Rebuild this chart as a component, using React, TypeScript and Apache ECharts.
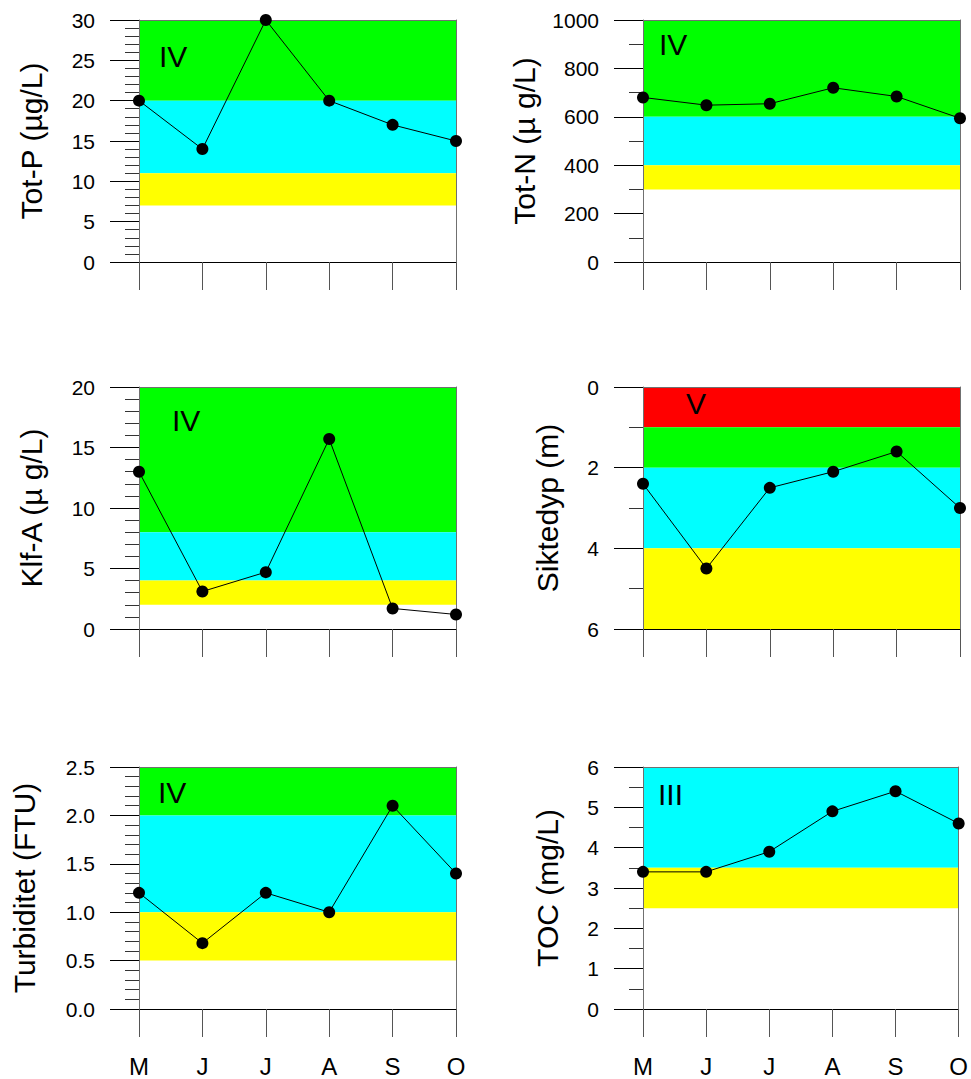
import React, { useEffect, useRef } from "react";
import * as echarts from "echarts";

// ---------- data ----------
const months = ["M", "J", "J", "A", "S", "O"];

const totP = [20, 14, 30, 20, 17, 15];
const totN = [680, 648, 654, 720, 684, 594];
const klfA = [13, 3.1, 4.7, 15.7, 1.7, 1.2];
const siktedyp = [2.4, 4.5, 2.5, 2.1, 1.6, 3.0];
const turbiditet = [1.2, 0.68, 1.2, 1.0, 2.1, 1.4];
const toc = [3.4, 3.4, 3.9, 4.9, 5.4, 4.6];

// class bands: [from, to, band kind]
const totPBands: [number, number, string][] = [[20, 30, "green"], [11, 20, "cyan"], [7, 11, "yellow"]];
const totNBands: [number, number, string][] = [[600, 1000, "green"], [400, 600, "cyan"], [300, 400, "yellow"]];
const klfABands: [number, number, string][] = [[8, 20, "green"], [4, 8, "cyan"], [2, 4, "yellow"]];
const siktBands: [number, number, string][] = [[0, 1, "red"], [1, 2, "green"], [2, 4, "cyan"], [4, 6, "yellow"]];
const turbBands: [number, number, string][] = [[2, 2.5, "green"], [1, 2, "cyan"], [0.5, 1, "yellow"]];
const tocBands: [number, number, string][] = [[3.5, 6, "cyan"], [2.5, 3.5, "yellow"]];

const titles = ["Tot-P (µg/L)", "Tot-N (µ g/L)", "Klf-A (µ g/L)", "Siktedyp (m)", "Turbiditet (FTU)", "TOC (mg/L)"];
const classLabels = ["IV", "IV", "IV", "V", "IV", "III"];

// ---------- styles / layout ----------
const bandColors: Record<string, string> = {
  green: "#00ff00",
  cyan: "#00ffff",
  yellow: "#ffff00",
  red: "#ff0000",
};
const FONT = "'Liberation Sans', Arial, Helvetica, sans-serif";
const GRAY = "#707070";

const panels = [
  { data: totP, bands: totPBands, min: 0, max: 30, interval: 5, minor: 5, inverse: false, dec: 0,
    grid: { left: 139, top: 20 }, titlePos: [31, 141], classPos: [159, 56] },
  { data: totN, bands: totNBands, min: 0, max: 1000, interval: 200, minor: 2, inverse: false, dec: 0,
    grid: { left: 643, top: 20 }, titlePos: [524, 141], classPos: [659, 44] },
  { data: klfA, bands: klfABands, min: 0, max: 20, interval: 5, minor: 5, inverse: false, dec: 0,
    grid: { left: 139, top: 387 }, titlePos: [31, 508], classPos: [172, 420] },
  { data: siktedyp, bands: siktBands, min: 0, max: 6, interval: 2, minor: 2, inverse: true, dec: 0,
    grid: { left: 643, top: 387 }, titlePos: [547, 508], classPos: [686, 403] },
  { data: turbiditet, bands: turbBands, min: 0, max: 2.5, interval: 0.5, minor: 5, inverse: false, dec: 1,
    grid: { left: 139, top: 767 }, titlePos: [24, 888], classPos: [158, 792] },
  { data: toc, bands: tocBands, min: 0, max: 6, interval: 1, minor: 2, inverse: false, dec: 0,
    grid: { left: 643, top: 767 }, titlePos: [547, 888], classPos: [658, 794] },
];
const PW = 317;
const PH = 242;

function buildOption() {
  const grid: any[] = [];
  const xAxis: any[] = [];
  const yAxis: any[] = [];
  const series: any[] = [];
  const graphic: any[] = [];

  panels.forEach((p, i) => {
    const bottomRow = i >= 4;
    grid.push({ left: p.grid.left, top: p.grid.top, width: PW, height: PH, containLabel: false });
    xAxis.push({
      type: "category",
      gridIndex: i,
      data: months,
      boundaryGap: false,
      position: "bottom",
      z: 5,
      axisLine: { show: true, onZero: false, lineStyle: { color: "#000", width: 1 } },
      axisTick: { show: true, length: 28, interval: 0, lineStyle: { color: "#555", width: 1 } },
      axisLabel: { show: bottomRow, interval: 0, margin: 45, fontSize: 24, color: "#000", fontFamily: FONT },
      splitLine: { show: false },
    });
    xAxis.push({
      type: "category",
      gridIndex: i,
      data: months,
      boundaryGap: false,
      position: "top",
      z: 5,
      axisLine: { show: true, onZero: false, lineStyle: { color: GRAY, width: 1 } },
      axisTick: { show: false },
      axisLabel: { show: false },
      splitLine: { show: false },
    });
    yAxis.push({
      type: "value",
      gridIndex: i,
      min: p.min,
      max: p.max,
      interval: p.interval,
      inverse: p.inverse,
      position: "left",
      z: 5,
      axisLine: { show: true, onZero: false, lineStyle: { color: GRAY, width: 1 } },
      axisTick: { show: true, length: 29, lineStyle: { color: "#000", width: 1 } },
      minorTick: { show: true, splitNumber: p.minor, length: 14, lineStyle: { color: "#333", width: 1 } },
      axisLabel: {
        margin: 44,
        fontSize: 21,
        color: "#000",
        fontFamily: FONT,
        formatter: (v: number) => v.toFixed(p.dec),
      },
      splitLine: { show: false },
      minorSplitLine: { show: false },
    });
    yAxis.push({
      type: "value",
      gridIndex: i,
      min: p.min,
      max: p.max,
      inverse: p.inverse,
      position: "right",
      z: 5,
      axisLine: { show: true, onZero: false, lineStyle: { color: GRAY, width: 1 } },
      axisTick: { show: false },
      axisLabel: { show: false },
      splitLine: { show: false },
    });
    series.push({
      type: "line",
      xAxisIndex: 2 * i,
      yAxisIndex: 2 * i,
      data: p.data,
      z: 10,
      clip: false,
      symbol: "circle",
      symbolSize: 12,
      itemStyle: { color: "#000" },
      lineStyle: { color: "#000", width: 1 },
      emphasis: { disabled: true },
      markArea: {
        silent: true,
        z: 1,
        data: p.bands.map(([a, b, k]) => [
          { yAxis: a, itemStyle: { color: bandColors[k], opacity: 1 } },
          { yAxis: b },
        ]),
      },
    });
    graphic.push({
      type: "text",
      x: p.titlePos[0],
      y: p.titlePos[1],
      rotation: Math.PI / 2,
      style: {
        text: titles[i],
        fill: "#000",
        font: `30px ${FONT}`,
        textAlign: "center",
        textVerticalAlign: "middle",
      },
      z: 20,
    });
    graphic.push({
      type: "text",
      x: p.classPos[0],
      y: p.classPos[1],
      style: {
        text: classLabels[i],
        fill: "#000",
        font: `30px ${FONT}`,
        textAlign: "left",
        textVerticalAlign: "middle",
      },
      z: 20,
    });
  });

  return {
    animation: false,
    backgroundColor: "#fff",
    textStyle: { fontFamily: FONT },
    grid,
    xAxis,
    yAxis,
    series,
    graphic,
  };
}

export default function App() {
  const ref = useRef<HTMLDivElement>(null);
  useEffect(() => {
    if (!ref.current) return;
    const chart = echarts.init(ref.current, null, { renderer: "svg" });
    chart.setOption(buildOption());
    return () => chart.dispose();
  }, []);
  return (
    <div
      ref={ref}
      style={{ position: "absolute", left: 0, top: 0, width: 971, height: 1079, background: "#fff" }}
    />
  );
}
